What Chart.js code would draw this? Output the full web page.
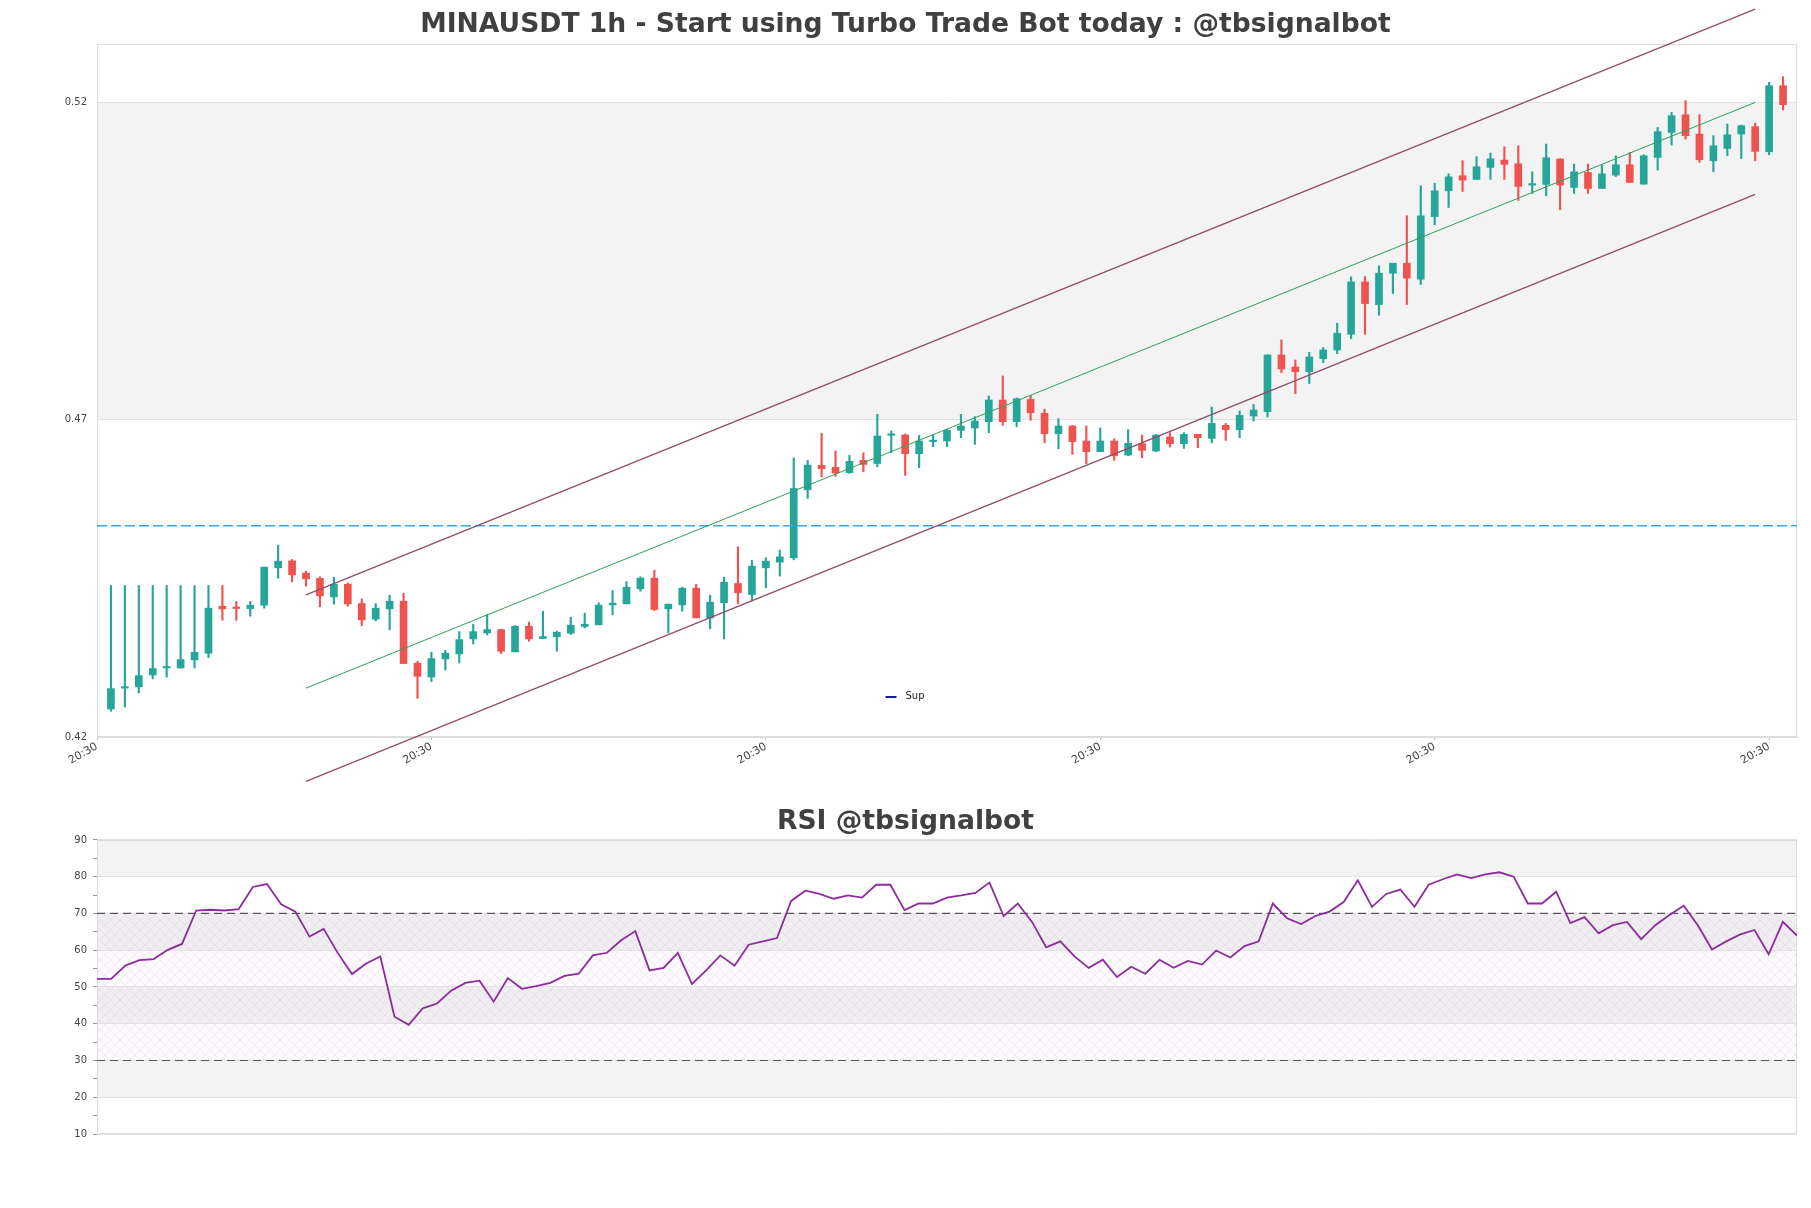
<!DOCTYPE html>
<html>
<head>
<meta charset="utf-8">
<script src="https://cdn.jsdelivr.net/npm/chart.js@4.4.1/dist/chart.umd.min.js"></script>
<style>
  body { margin: 0; background: #fff; }
  #wrap { position: relative; width: 1811px; height: 1208px; }
  .box { position: absolute; left: 0; width: 1811px; }
</style>
</head>
<body>
<div id="wrap">
  <div class="box" style="top:0;height:790px"><canvas id="priceChart"></canvas></div>
  <div class="box" style="top:790px;height:418px"><canvas id="rsiChart"></canvas></div>
</div>
<script>
// candles 1..121 (1h)
const opens = [
  0.42442, 0.42770, 0.42789, 0.42978, 0.43088, 0.43088, 0.43215, 0.43320, 0.44061, 0.44035,
  0.44024, 0.44077, 0.44666, 0.44776, 0.44582, 0.44498, 0.44208, 0.44408, 0.44103, 0.43856,
  0.44019, 0.44140, 0.43162, 0.42946, 0.43230, 0.43309, 0.43546, 0.43640, 0.43693, 0.43341,
  0.43746, 0.43551, 0.43578, 0.43635, 0.43741, 0.43767, 0.44082, 0.44098, 0.44335, 0.44503,
  0.44019, 0.44082, 0.44345, 0.43877, 0.44114, 0.44419, 0.44245, 0.44666, 0.44755, 0.44824,
  0.45896, 0.46280, 0.46249, 0.46165, 0.46359, 0.46310, 0.46754, 0.46759, 0.46464, 0.46654,
  0.46664, 0.46832, 0.46870, 0.46969, 0.47310, 0.46969, 0.47320, 0.47100, 0.46779, 0.46900,
  0.46664, 0.46496, 0.46664, 0.46443, 0.46622, 0.46506, 0.46727, 0.46622, 0.46769, 0.46706,
  0.46911, 0.46843, 0.47058, 0.47127, 0.48020, 0.47831, 0.47757, 0.47962, 0.48099, 0.48346,
  0.49172, 0.48814, 0.49309, 0.49466, 0.49214, 0.50202, 0.50607, 0.50844, 0.50786, 0.50975,
  0.51091, 0.51033, 0.50697, 0.50707, 0.51107, 0.50660, 0.50896, 0.50644, 0.50854, 0.51017,
  0.50712, 0.51133, 0.51527, 0.51806, 0.51501, 0.51080, 0.51275, 0.51501, 0.51617, 0.51222,
  0.52264
];
const highs = [
  0.44387, 0.44387, 0.44387, 0.44387, 0.44387, 0.44387, 0.44387, 0.44387, 0.44387, 0.44135,
  0.44135, 0.44680, 0.45023, 0.44797, 0.44613, 0.44524, 0.44519, 0.44429, 0.44177, 0.44103,
  0.44235, 0.44266, 0.43194, 0.43335, 0.43367, 0.43661, 0.43777, 0.43930, 0.43693, 0.43756,
  0.43809, 0.43982, 0.43667, 0.43888, 0.43951, 0.44114, 0.44308, 0.44450, 0.44524, 0.44629,
  0.44093, 0.44361, 0.44408, 0.44235, 0.44519, 0.44997, 0.44782, 0.44824, 0.44945, 0.46396,
  0.46359, 0.46785, 0.46506, 0.46438, 0.46480, 0.47085, 0.46822, 0.46774, 0.46753, 0.46764,
  0.46848, 0.47084, 0.47048, 0.47374, 0.47689, 0.47342, 0.47384, 0.47163, 0.47016, 0.46911,
  0.46900, 0.46870, 0.46701, 0.46843, 0.46758, 0.46769, 0.46795, 0.46795, 0.46769, 0.47200,
  0.46942, 0.47137, 0.47242, 0.48020, 0.48257, 0.47941, 0.48062, 0.48136, 0.48520, 0.49251,
  0.49256, 0.49424, 0.49466, 0.50213, 0.50686, 0.50728, 0.50875, 0.51080, 0.51144, 0.51201,
  0.51301, 0.51317, 0.50907, 0.51343, 0.51117, 0.51028, 0.51028, 0.51017, 0.51159, 0.51212,
  0.51175, 0.51606, 0.51843, 0.52027, 0.51806, 0.51475, 0.51659, 0.51643, 0.51675, 0.52316,
  0.52405
];
const lows = [
  0.42405, 0.42473, 0.42694, 0.42915, 0.42946, 0.43085, 0.43088, 0.43251, 0.43840, 0.43840,
  0.43903, 0.44030, 0.44503, 0.44445, 0.44377, 0.44051, 0.44093, 0.44061, 0.43756, 0.43830,
  0.43688, 0.43157, 0.42610, 0.42873, 0.43057, 0.43167, 0.43467, 0.43609, 0.43314, 0.43341,
  0.43509, 0.43551, 0.43351, 0.43614, 0.43720, 0.43767, 0.43925, 0.44098, 0.44298, 0.43993,
  0.43641, 0.43982, 0.43877, 0.43704, 0.43546, 0.44098, 0.44151, 0.44351, 0.44535, 0.44792,
  0.45760, 0.46096, 0.46107, 0.46154, 0.46180, 0.46259, 0.46480, 0.46122, 0.46243, 0.46575,
  0.46575, 0.46716, 0.46611, 0.46795, 0.46911, 0.46890, 0.46990, 0.46637, 0.46543, 0.46453,
  0.46306, 0.46496, 0.46359, 0.46432, 0.46401, 0.46496, 0.46569, 0.46548, 0.46559, 0.46637,
  0.46674, 0.46716, 0.46979, 0.47042, 0.47742, 0.47410, 0.47568, 0.47899, 0.48041, 0.48278,
  0.48346, 0.48646, 0.48988, 0.48814, 0.49130, 0.50071, 0.50344, 0.50597, 0.50786, 0.50786,
  0.50786, 0.50455, 0.50565, 0.50528, 0.50308, 0.50565, 0.50565, 0.50644, 0.50833, 0.50739,
  0.50712, 0.50933, 0.51328, 0.51422, 0.51054, 0.50907, 0.51159, 0.51117, 0.51080, 0.51175,
  0.51880
];
const closes = [
  0.42762, 0.42780, 0.42967, 0.43078, 0.43098, 0.43220, 0.43335, 0.44030, 0.44019, 0.44025,
  0.44077, 0.44676, 0.44771, 0.44555, 0.44492, 0.44224, 0.44408, 0.44098, 0.43846, 0.44030,
  0.44140, 0.43157, 0.42957, 0.43236, 0.43320, 0.43535, 0.43661, 0.43693, 0.43351, 0.43746,
  0.43546, 0.43583, 0.43651, 0.43762, 0.43777, 0.44077, 0.44109, 0.44361, 0.44503, 0.44009,
  0.44093, 0.44345, 0.43877, 0.44124, 0.44440, 0.44272, 0.44692, 0.44771, 0.44839, 0.45917,
  0.46285, 0.46228, 0.46159, 0.46343, 0.46296, 0.46743, 0.46764, 0.46464, 0.46664, 0.46664,
  0.46832, 0.46900, 0.46979, 0.47310, 0.46969, 0.47331, 0.47110, 0.46779, 0.46900, 0.46653,
  0.46496, 0.46664, 0.46432, 0.46627, 0.46517, 0.46758, 0.46622, 0.46769, 0.46716, 0.46942,
  0.46843, 0.47069, 0.47153, 0.48020, 0.47799, 0.47757, 0.47989, 0.48099, 0.48362, 0.49172,
  0.48830, 0.49309, 0.49466, 0.49230, 0.50213, 0.50607, 0.50828, 0.50775, 0.50986, 0.51112,
  0.51023, 0.50676, 0.50707, 0.51128, 0.50697, 0.50907, 0.50644, 0.50875, 0.51017, 0.50739,
  0.51159, 0.51538, 0.51790, 0.51475, 0.51096, 0.51317, 0.51490, 0.51633, 0.51228, 0.52264,
  0.51964
];

const xTickPositions = [0, 24, 48, 72, 96, 120];
const xTickLabels = ['20:30', '20:30', '20:30', '20:30', '20:30', '20:30'];
const priceTicks = [0.42, 0.47, 0.52];

// regression channel
const channelX = [15, 119];
const midLine = [0.4277, 0.5200];
const upperLine = [0.4424, 0.5347];
const lowerLine = [0.4130, 0.5055];
const supLevel = 0.4533;

const rsiValues = [
  52.2, 52.2, 55.8, 57.3, 57.6, 60.1, 61.7, 70.8, 71.0, 70.8,
  71.2, 77.2, 78.0, 72.5, 70.5, 63.7, 65.8, 59.2, 53.5, 56.4,
  58.3, 41.9, 39.7, 44.2, 45.5, 49.0, 51.1, 51.7, 46.0, 52.4,
  49.5, 50.2, 51.1, 53.0, 53.6, 58.6, 59.3, 62.7, 65.2, 54.5,
  55.2, 59.3, 50.8, 54.5, 58.6, 55.8, 61.5, 62.4, 63.3, 73.4,
  76.2, 75.3, 74.0, 74.9, 74.3, 77.8, 77.8, 70.9, 72.7, 72.7,
  74.3, 74.9, 75.6, 78.4, 69.3, 72.7, 67.7, 60.8, 62.4, 58.3,
  55.2, 57.4, 52.7, 55.5, 53.6, 57.4, 55.2, 57.1, 56.1, 59.9,
  58.0, 61.1, 62.4, 72.7, 68.7, 67.1, 69.3, 70.5, 73.1, 79.0,
  71.8, 75.3, 76.5, 71.8, 77.8, 79.3, 80.6, 79.6, 80.6, 81.2,
  80.0, 72.7, 72.7, 75.9, 67.4, 69.0, 64.6, 66.8, 67.7, 63.0,
  66.8, 69.6, 72.1, 66.8, 60.2, 62.4, 64.3, 65.5, 58.9, 67.7,
  64.0
];
const rsiLevels = [70, 30];

const UP = '#26a69a';
const DOWN = '#ef5350';
const FONT = 'DejaVu Sans';

// draws alternating grey bands, optional hatch, and the frame of the plot
const bandPlugin = {
  id: 'bands',
  beforeDraw(chart, args, opts) {
    const { ctx, chartArea: a, scales: { y } } = chart;
    ctx.save();
    ctx.fillStyle = '#fff';
    ctx.fillRect(0, 0, chart.width, chart.height);
    ctx.fillStyle = '#f3f3f3';
    (opts.ranges || []).forEach(([lo, hi]) => {
      const top = y.getPixelForValue(hi), bot = y.getPixelForValue(lo);
      ctx.fillRect(a.left, top, a.right - a.left, bot - top);
    });
    if (opts.hatch) {
      const tile = document.createElement('canvas');
      tile.width = 10; tile.height = 10;
      const g = tile.getContext('2d');
      g.fillStyle = 'rgba(150, 90, 170, 0.03)';
      g.fillRect(0, 0, 10, 10);
      g.strokeStyle = 'rgba(150, 110, 170, 0.16)';
      g.lineWidth = 0.6;
      g.beginPath();
      g.moveTo(0, 0); g.lineTo(10, 10);
      g.moveTo(10, 0); g.lineTo(0, 10);
      g.stroke();
      ctx.fillStyle = ctx.createPattern(tile, 'repeat');
      const top = y.getPixelForValue(opts.hatch[1]), bot = y.getPixelForValue(opts.hatch[0]);
      ctx.fillRect(a.left, top, a.right - a.left, bot - top);
    }
    ctx.restore();
  },
  beforeDatasetsDraw(chart) {
    const { ctx, chartArea: a } = chart;
    ctx.save();
    ctx.strokeStyle = '#dcdcdc';
    ctx.lineWidth = 1;
    ctx.strokeRect(a.left + 0.5, a.top + 0.5, a.right - a.left - 1, a.bottom - a.top - 1);
    ctx.restore();
  },
  afterDraw(chart, args, opts) {
    if (!opts.legend) return;
    const { ctx, chartArea: a } = chart;
    const cx = chart.width / 2;
    const yy = a.bottom - 40;
    ctx.save();
    ctx.strokeStyle = opts.legend.color;
    ctx.lineWidth = 2;
    ctx.beginPath();
    ctx.moveTo(cx - 20, yy); ctx.lineTo(cx - 9, yy);
    ctx.stroke();
    ctx.fillStyle = '#222';
    ctx.font = '10px ' + FONT;
    ctx.textBaseline = 'middle';
    ctx.fillText(opts.legend.text, cx, yy - 1);
    ctx.restore();
  }
};

const candleColors = opens.map((o, i) => closes[i] >= o ? UP : DOWN);
const wickData = opens.map((o, i) => ({ x: i + 1, y: [lows[i], highs[i]] }));
const bodyData = opens.map((o, i) => ({ x: i + 1, y: [o, closes[i]] }));
const lineOf = (xs, ys) => xs.map((x, i) => ({ x: x, y: ys[i] }));

new Chart(document.getElementById('priceChart'), {
  type: 'bar',
  data: {
    datasets: [
      { type: 'line', label: 'Upper', data: lineOf(channelX, upperLine), borderColor: '#8f4b67',
        borderWidth: 1.2, pointRadius: 0, clip: false, order: 0 },
      { type: 'line', label: 'Lower', data: lineOf(channelX, lowerLine), borderColor: '#8f4b67',
        borderWidth: 1.2, pointRadius: 0, clip: false, order: 0 },
      { type: 'line', label: 'Mid', data: lineOf(channelX, midLine), borderColor: '#2ea05a',
        borderWidth: 1, pointRadius: 0, clip: false, order: 0 },
      { type: 'line', label: 'Sup', data: [{ x: 0, y: supLevel }, { x: 122, y: supLevel }],
        borderColor: '#3aa6dc', borderDash: [10, 4], borderWidth: 1.5, pointRadius: 0, order: 0 },
      { label: 'body', data: bodyData, backgroundColor: candleColors, barThickness: 7,
        minBarLength: 1.5, grouped: false, order: 1 },
      { label: 'wick', data: wickData, backgroundColor: candleColors, barThickness: 1.5,
        grouped: false, order: 2 }
    ]
  },
  options: {
    responsive: true,
    maintainAspectRatio: false,
    animation: false,
    layout: { padding: { left: 14, right: 14, top: 0, bottom: 0 } },
    plugins: {
      legend: { display: false },
      tooltip: { enabled: false },
      title: {
        display: true,
        text: 'MINAUSDT 1h - Start using Turbo Trade Bot today : @tbsignalbot',
        color: '#404040',
        font: { family: FONT, size: 26.6, weight: 'bold' },
        padding: { top: 9.4, bottom: 2.7 }
      },
      bands: { ranges: [[0.47, 0.52]], legend: { text: 'Sup', color: '#1a1aa6' } }
    },
    scales: {
      x: {
        type: 'linear',
        min: 0,
        max: 122,
        offset: false,
        afterBuildTicks: s => { s.ticks = xTickPositions.map(v => ({ value: v })); },
        afterFit: s => { s.height = 53; },
        ticks: {
          autoSkip: false,
          minRotation: 30,
          maxRotation: 30,
          padding: 0,
          color: '#444',
          font: { family: FONT, size: 11 },
          callback: (v, i) => xTickLabels[i]
        },
        grid: { drawOnChartArea: false, offset: false, tickLength: 3, color: '#bbb' },
        border: { color: '#dcdcdc' }
      },
      y: {
        min: 0.42,
        max: 0.5292,
        afterBuildTicks: s => { s.ticks = priceTicks.map(v => ({ value: v })); },
        afterFit: s => { s.width = 83; },
        ticks: {
          padding: 10,
          color: '#444',
          font: { family: FONT, size: 10 },
          callback: v => v.toFixed(2)
        },
        grid: { color: '#e2e2e2', drawTicks: false },
        border: { color: '#dcdcdc' }
      }
    }
  },
  plugins: [bandPlugin]
});

new Chart(document.getElementById('rsiChart'), {
  type: 'line',
  data: {
    datasets: [
      { label: 'RSI', data: rsiValues.map((v, i) => ({ x: i, y: v })), borderColor: '#8e2c9e',
        borderWidth: 1.8, pointRadius: 0, order: 0 },
      { label: 'OB', data: [{ x: 0, y: rsiLevels[0] }, { x: 120, y: rsiLevels[0] }], borderColor: '#555',
        borderDash: [8, 5], borderWidth: 1.2, pointRadius: 0, order: 1 },
      { label: 'OS', data: [{ x: 0, y: rsiLevels[1] }, { x: 120, y: rsiLevels[1] }], borderColor: '#555',
        borderDash: [8, 5], borderWidth: 1.2, pointRadius: 0, order: 1 }
    ]
  },
  options: {
    responsive: true,
    maintainAspectRatio: false,
    animation: false,
    layout: { padding: { left: 14, right: 14, top: 0, bottom: 74 } },
    plugins: {
      legend: { display: false },
      tooltip: { enabled: false },
      title: {
        display: true,
        text: 'RSI @tbsignalbot',
        color: '#404040',
        font: { family: FONT, size: 26.6, weight: 'bold' },
        padding: { top: 16.3, bottom: 1.7 }
      },
      bands: { ranges: [[20, 30], [40, 50], [60, 70], [80, 90]], hatch: [30, 70] }
    },
    scales: {
      x: { type: 'linear', min: 0, max: 120, display: false },
      y: {
        min: 10,
        max: 90,
        afterFit: s => { s.width = 83; },
        ticks: {
          stepSize: 5,
          padding: 6,
          color: '#444',
          font: { family: FONT, size: 10 },
          callback: v => (v % 10 === 0 ? v : '')
        },
        grid: {
          color: c => (c.tick && c.tick.value % 10 === 0 ? '#e2e2e2' : 'rgba(0,0,0,0)'),
          tickColor: '#999',
          tickLength: 4
        },
        border: { color: '#dcdcdc' }
      }
    }
  },
  plugins: [bandPlugin]
});
</script>
</body>
</html>
